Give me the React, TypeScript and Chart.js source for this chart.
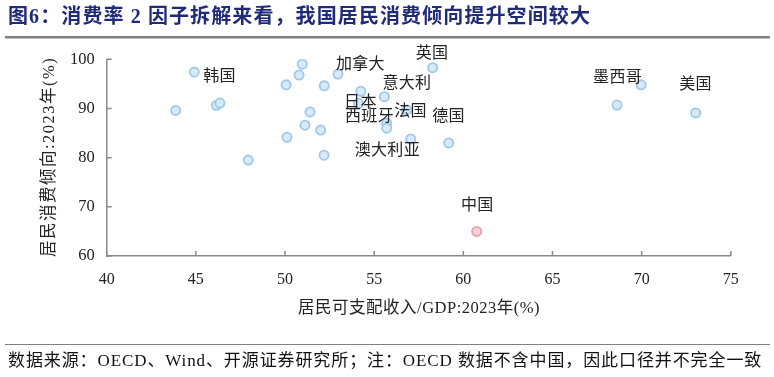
import React, { useEffect, useRef } from "react";
import { Chart, registerables } from "chart.js";

Chart.register(...registerables);

// Blue points: OECD countries (x: household disposable income / GDP, y: household consumption propensity)
const oecdIncome = [43.87, 44.91, 46.15, 46.35, 47.94, 50.06, 50.11, 50.79, 50.97, 51.12, 51.40, 52.00, 52.20, 52.19, 52.97, 54.12, 54.25, 55.57, 55.70, 55.70, 56.83, 57.05, 58.28, 59.18, 68.62, 69.97, 73.03];
const oecdPropensity = [89.6, 97.4, 90.65, 91.1, 79.5, 94.8, 84.15, 96.8, 99.0, 86.6, 89.3, 85.6, 94.6, 80.5, 97.0, 91.05, 93.5, 92.4, 87.0, 86.0, 89.7, 83.8, 98.3, 83.0, 90.7, 94.8, 89.1];
const chinaIncome = [60.75];
const chinaPropensity = [65.0];

// Country labels (anchored in data units)
const labelTexts = ["韩国", "加拿大", "英国", "意大利", "日本", "西班牙", "法国", "德国", "澳大利亚", "墨西哥", "美国", "中国"];
const labelX = [46.32, 54.22, 58.24, 56.83, 54.22, 54.73, 57.03, 59.16, 55.73, 68.64, 73.01, 60.77];
const labelY = [96.46, 98.94, 101.22, 95.12, 91.06, 88.33, 89.23, 88.33, 81.42, 96.14, 94.72, 70.24];

const xTicks = [40, 45, 50, 55, 60, 65, 70, 75];
const yTicks = [60, 70, 80, 90, 100];

const titleText = "图6：消费率 2 因子拆解来看，我国居民消费倾向提升空间较大";
const footerText = "数据来源：OECD、Wind、开源证券研究所；注：OECD 数据不含中国，因此口径并不完全一致";
const xTitle = "居民可支配收入/GDP:2023年(%)";
const yTitle = "居民消费倾向:2023年(%)";

const FONT = '"Liberation Serif", "Noto Sans CJK SC", serif';
const AXIS_COLOR = "#8a8a8a";

function spacedText(ctx: any, text: string, x: number, y: number, spacing: number, align: "left" | "center") {
  ctx.letterSpacing = `${spacing}px`;
  let startX = x;
  if (align === "center") {
    const w = ctx.measureText(text).width - spacing;
    startX = x - w / 2;
  }
  const prev = ctx.textAlign;
  ctx.textAlign = "left";
  ctx.fillText(text, startX, y);
  ctx.textAlign = prev;
  ctx.letterSpacing = "0px";
}

export default function App() {
  const ref = useRef<HTMLCanvasElement>(null);

  useEffect(() => {
    const canvas = ref.current;
    if (!canvas) return;

    const decor = {
      id: "decor",
      afterDraw(chart: any) {
        const ctx = chart.ctx;
        const xs = chart.scales.x;
        const ys = chart.scales.y;
        const ca = chart.chartArea;
        ctx.save();
        ctx.textBaseline = "middle";
        // title
        ctx.fillStyle = "#1f2a78";
        ctx.font = `bold 20px ${FONT}`;
        spacedText(ctx, titleText, 8, 18, 1.1, "left");
        // title rule
        ctx.fillStyle = "#808080";
        ctx.fillRect(5, 36, 765, 2.5);
        // footer rule
        ctx.fillRect(5, 344, 765, 1);
        // footer
        ctx.fillStyle = "#111";
        ctx.font = `17px ${FONT}`;
        spacedText(ctx, footerText, 8, 362, 0.9, "left");

        // tick marks (inward)
        ctx.strokeStyle = AXIS_COLOR;
        ctx.lineWidth = 1.5;
        ctx.beginPath();
        yTicks.forEach((v) => {
          const py = ys.getPixelForValue(v);
          ctx.moveTo(ca.left, py);
          ctx.lineTo(ca.left + 5, py);
        });
        xTicks.forEach((v) => {
          const px = xs.getPixelForValue(v);
          ctx.moveTo(px, ca.bottom);
          ctx.lineTo(px, ca.bottom - 5);
        });
        ctx.stroke();

        // axis titles
        ctx.fillStyle = "#222";
        ctx.font = `16.5px ${FONT}`;
        spacedText(ctx, xTitle, (ca.left + ca.right) / 2, 309, 0.5, "center");
        ctx.save();
        ctx.translate(50, (ca.top + ca.bottom) / 2);
        ctx.rotate(-Math.PI / 2);
        spacedText(ctx, yTitle, 0, 0, 1.5, "center");
        ctx.restore();

        // data labels
        ctx.font = `16px ${FONT}`;
        ctx.fillStyle = "#222";
        labelTexts.forEach((t, i) => {
          spacedText(ctx, t, xs.getPixelForValue(labelX[i]), ys.getPixelForValue(labelY[i]), 0.3, "center");
        });
        ctx.restore();
      },
    };

    const chart = new Chart(canvas, {
      type: "scatter",
      data: {
        datasets: [
          {
            label: "OECD",
            data: oecdIncome.map((x, i) => ({ x, y: oecdPropensity[i] })),
            pointRadius: 4.6,
            borderWidth: 1.8,
            borderColor: "#9fc8eb",
            backgroundColor: "#d8e9f8",
          },
          {
            label: "中国",
            data: chinaIncome.map((x, i) => ({ x, y: chinaPropensity[i] })),
            pointRadius: 4.6,
            borderWidth: 1.8,
            borderColor: "#e6a2ac",
            backgroundColor: "#f5d3d8",
          },
        ],
      },
      options: {
        responsive: false,
        animation: false,
        layout: { padding: { top: 59.3, right: 43.2, left: 0, bottom: 0 } },
        plugins: {
          legend: { display: false },
          tooltip: { enabled: false },
          title: { display: false },
        },
        scales: {
          x: {
            type: "linear",
            min: 40,
            max: 75,
            afterFit: (s: any) => {
              s.height = 121;
            },
            afterBuildTicks: (s: any) => {
              s.ticks = xTicks.map((v) => ({ value: v }));
            },
            grid: { display: false, drawTicks: false },
            border: { display: true, color: AXIS_COLOR, width: 1.5 },
            ticks: {
              padding: 14,
              color: "#222",
              font: { family: FONT, size: 16 },
            },
          },
          y: {
            type: "linear",
            min: 60,
            max: 100,
            afterFit: (s: any) => {
              s.width = 106.7;
            },
            afterBuildTicks: (s: any) => {
              s.ticks = yTicks.map((v) => ({ value: v }));
            },
            grid: { display: false, drawTicks: false },
            border: { display: true, color: AXIS_COLOR, width: 1.5 },
            ticks: {
              padding: 12,
              color: "#222",
              font: { family: FONT, size: 16.5 },
            },
          },
        },
      },
      plugins: [decor],
    });

    return () => chart.destroy();
  }, []);

  return (
    <div style={{ position: "absolute", left: 0, top: 0, width: 774, height: 377, background: "#fff" }}>
      <canvas ref={ref} width={774} height={377} style={{ display: "block", width: 774, height: 377 }} />
    </div>
  );
}
